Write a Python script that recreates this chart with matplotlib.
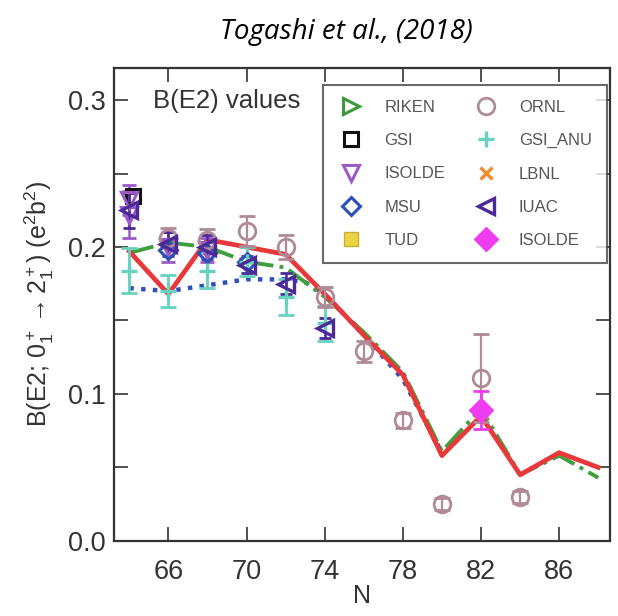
import numpy as np
import matplotlib.pyplot as plt

plt.rcParams['font.family'] = ['Liberation Sans', 'DejaVu Sans']
plt.rcParams['mathtext.fontset'] = 'custom'
plt.rcParams['mathtext.rm'] = 'Liberation Sans'
plt.rcParams['mathtext.it'] = 'Liberation Sans'

# theory curves
n_red = [64, 66, 68, 70, 72, 74, 76, 78, 80, 82, 84, 86, 88]
b_red = [0.197, 0.168, 0.205, 0.200, 0.195, 0.168, 0.140, 0.113, 0.058, 0.085, 0.045, 0.060, 0.050]
n_green = [64, 66, 68, 70, 72, 74, 76, 78, 80, 82, 84, 86, 88]
b_green = [0.196, 0.203, 0.200, 0.190, 0.186, 0.166, 0.142, 0.115, 0.061, 0.090, 0.045, 0.058, 0.043]
n_blue = [64, 66, 68, 70, 72, 73, 74, 76, 78, 80]
b_blue = [0.172, 0.170, 0.174, 0.178, 0.178, 0.176, 0.168, 0.140, 0.110, 0.060]

# experimental data
n_ornl = [66, 68, 70, 72, 74, 76, 78, 80, 82, 84]
b_ornl = [0.206, 0.205, 0.211, 0.200, 0.166, 0.129, 0.082, 0.025, 0.111, 0.030]
e_ornl = [0.007, 0.007, 0.010, 0.008, 0.007, 0.007, 0.005, 0.004, 0.030, 0.004]

n_anu = [64, 66, 68, 70, 72, 74]
b_anu = [0.184, 0.170, 0.184, 0.190, 0.166, 0.148]
e_anu = [0.015, 0.011, 0.012, 0.010, 0.012, 0.012]

n_isolde = [64, 64, 66, 68]
b_isolde = [0.232, 0.222, 0.200, 0.198]
e_isolde = [0.010, 0.016, 0.010, 0.008]

n_iuac = [64, 66, 68, 70, 72, 74]
b_iuac = [0.225, 0.202, 0.200, 0.188, 0.175, 0.145]
e_iuac = [0.012, 0.008, 0.008, 0.006, 0.007, 0.007]

n_msu = [66, 68, 70]
b_msu = [0.198, 0.196, 0.190]

n_gsi = [64.2]
b_gsi = [0.235]

n_lbnl = [82]
b_lbnl = [0.088]

n_riken = []
b_riken = []
n_tud = []
b_tud = []

n_isolde2 = [82]
b_isolde2 = [0.089]
e_isolde2 = [0.013]

fig = plt.figure(figsize=(6.18, 6.16), dpi=100)
ax = fig.add_axes([0.184, 0.122, 0.803, 0.768])

ax.plot(n_blue, b_blue, ':', color='#2f4fc0', lw=3.2, zorder=3)
ax.plot(n_green, b_green, '-.', color='#3f9f3f', lw=2.8, zorder=3)
ax.plot(n_red, b_red, '-', color='#e8383a', lw=3.4, zorder=4)

ax.errorbar(n_anu, b_anu, yerr=e_anu, fmt='none', ecolor='#66d2bf', elinewidth=2, capsize=6, capthick=2, zorder=5)
ax.errorbar(n_ornl, b_ornl, yerr=e_ornl, fmt='none', ecolor='#b08a96', elinewidth=1.6, capsize=6, capthick=2, zorder=5)
ax.errorbar(n_isolde, b_isolde, yerr=e_isolde, fmt='none', ecolor='#9b59c8', elinewidth=1.8, capsize=5, capthick=2, zorder=5)
ax.errorbar(n_iuac, b_iuac, yerr=e_iuac, fmt='none', ecolor='#4b2a98', elinewidth=1.8, capsize=4, capthick=2, zorder=5)
ax.errorbar(n_isolde2, b_isolde2, yerr=e_isolde2, fmt='none', ecolor='#f03cf0', elinewidth=2, capsize=6, capthick=2, zorder=6)

ms = 11
h_riken, = ax.plot(n_riken, b_riken, '>', ls='none', ms=ms, mfc='none', mec='#3a9a3a', mew=2.2, label='RIKEN')
h_gsi, = ax.plot(n_gsi, b_gsi, 's', ls='none', ms=ms - 1, mfc='none', mec='#111111', mew=2.2, label='GSI', zorder=6)
h_isolde, = ax.plot(n_isolde, b_isolde, 'v', ls='none', ms=ms, mfc='none', mec='#9b59c8', mew=2.2, label='ISOLDE', zorder=6)
h_msu, = ax.plot(n_msu, b_msu, 'D', ls='none', ms=ms - 2, mfc='none', mec='#2b4fb8', mew=2.2, label='MSU', zorder=6)
h_tud, = ax.plot(n_tud, b_tud, 's', ls='none', ms=ms - 1, mfc='#ecd444', mec='#c8b030', mew=1, label='TUD')
h_ornl, = ax.plot(n_ornl, b_ornl, 'o', ls='none', ms=ms + 1, mfc='none', mec='#b08a96', mew=2, label='ORNL', zorder=6)
h_anu, = ax.plot(n_anu, b_anu, '+', ls='none', ms=ms + 1, mec='#66d2bf', mew=2.4, label='GSI_ANU', zorder=6)
h_lbnl, = ax.plot(n_lbnl, b_lbnl, 'x', ls='none', ms=ms - 2, mec='#f08c30', mew=2.4, label='LBNL', zorder=5)
h_iuac, = ax.plot(n_iuac, b_iuac, '<', ls='none', ms=ms, mfc='none', mec='#4b2a98', mew=2.4, label='IUAC', zorder=6)
h_isolde2, = ax.plot(n_isolde2, b_isolde2, 'D', ls='none', ms=ms + 1, mfc='#f03cf0', mec='#f03cf0', label='ISOLDE', zorder=7)

handles = [h_riken, h_gsi, h_isolde, h_msu, h_tud, h_ornl, h_anu, h_lbnl, h_iuac, h_isolde2]
leg = ax.legend(handles=handles, ncol=2, loc='upper left', bbox_to_anchor=(0.421, 0.573, 0.573, 0.391),
                mode='expand', borderaxespad=0, fontsize=12, labelspacing=1.1, handletextpad=1.2,
                handlelength=1.6, columnspacing=1.0, borderpad=0.9, fancybox=False, edgecolor='#444444',
                labelcolor='#555555')
leg.get_frame().set_linewidth(1.5)

ax.text(0.08, 0.93, 'B(E2) values', transform=ax.transAxes, fontsize=18.5, color='#333333', va='center')

ax.set_xlim(63.2, 88.6)
ax.set_ylim(0, 0.322)
ax.set_xticks([66, 70, 74, 78, 82, 86])
ax.set_yticks([0.0, 0.1, 0.2, 0.3])
ax.set_yticks([0.05, 0.15, 0.25], minor=True)
ax.tick_params(axis='both', which='both', direction='in', length=10, width=1.2, top=True, right=True,
               labelsize=19.5, labelcolor='#333333', color='#333333')
ax.tick_params(axis='x', pad=13)
ax.tick_params(axis='y', pad=6)
for s in ax.spines.values():
    s.set_linewidth(1.6)
    s.set_color('#333333')

ax.set_xlabel('N', fontsize=18, color='#333333', labelpad=-1)
ax.set_ylabel(r'B(E2; 0$_1^+$$\rightarrow$2$_1^+$) (e$^2$b$^2$)', fontsize=18, color='#333333', labelpad=8)

fig.text(0.56, 0.948, 'Togashi et al., (2018)', fontsize=20, style='italic', ha='center', va='center',
         family=['Open Sans', 'DejaVu Sans'])

fig.savefig('out.png', dpi=100, facecolor='white')
